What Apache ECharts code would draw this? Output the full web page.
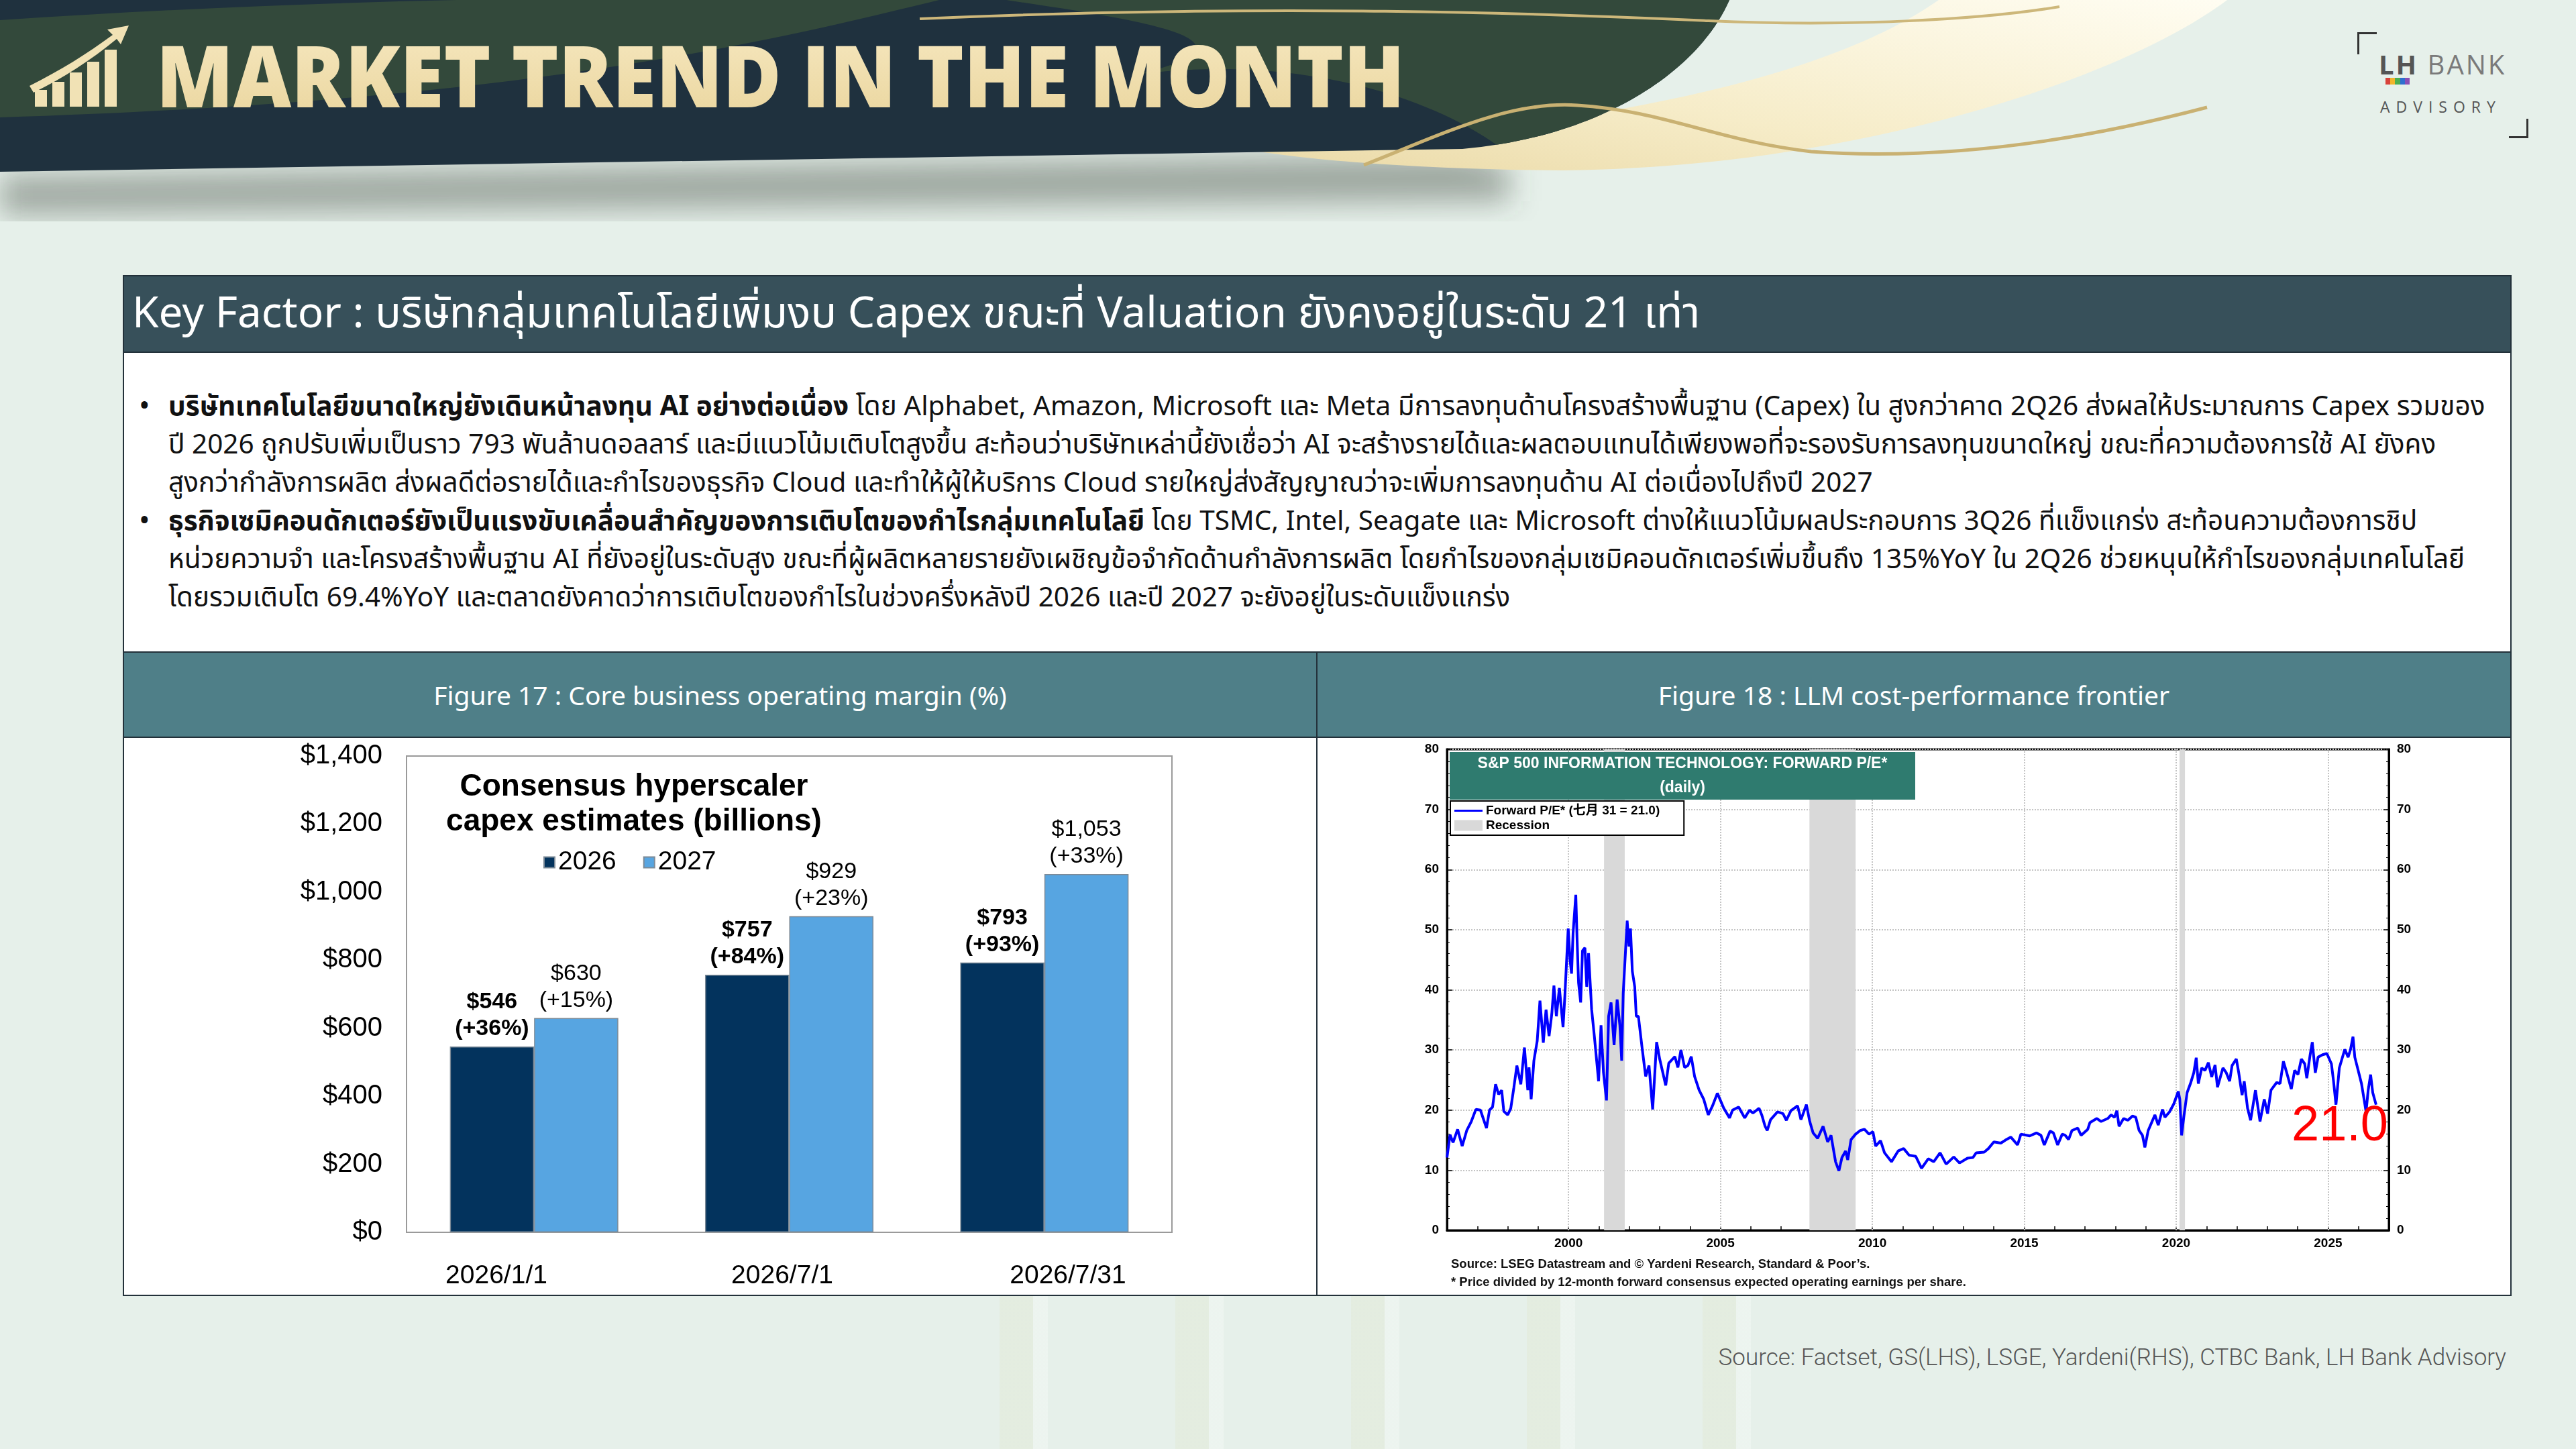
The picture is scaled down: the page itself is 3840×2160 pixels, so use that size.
<!DOCTYPE html>
<html>
<head>
<meta charset="utf-8">
<title>Market Trend in the Month</title>
<script src="https://cdn.jsdelivr.net/npm/echarts@6/dist/echarts.min.js"></script>
<style>
    html, body { margin: 0; padding: 0; }
    body { width: 3840px; height: 2160px; overflow: hidden; background: #e6f0ea; }
    #page { position: relative; width: 3840px; height: 2160px; overflow: hidden; background: #e6f0ea; }
    .stripes { position: absolute; left: 1300px; top: 1930px; width: 1500px; height: 230px;
        background: repeating-linear-gradient(90deg, rgba(0,0,0,0) 0, rgba(0,0,0,0) 190px,
            rgba(226,234,216,0.55) 190px, rgba(226,234,216,0.55) 240px, rgba(241,247,243,0.6) 240px, rgba(241,247,243,0.6) 262px); }
    #header { position: absolute; left: 0; top: 0; }
    .logo { position: absolute; left: 3500px; top: 40px; width: 280px; height: 180px; font-family: "Open Sans", "Liberation Sans", sans-serif; }
    .logo .name { position: absolute; left: 46px; top: 28px; font-size: 40px; letter-spacing: 3px; color: #7a7a7a; }
    .logo .name b { color: #555; font-weight: 700; }
    .logo .adv { position: absolute; left: 48px; top: 103px; font-size: 23px; letter-spacing: 9px; color: #555; }
    .logo .bars { position: absolute; left: 56px; top: 76px; width: 36px; height: 10px;
        background: linear-gradient(90deg, #d8423a 0 20%, #f1b52a 20% 40%, #4caf50 40% 60%, #2f6fd0 60% 80%, #8a4fb5 80% 100%); }
    .logo .c1 { position: absolute; left: 14px; top: 8px; width: 26px; height: 30px; border-left: 3px solid #333; border-top: 3px solid #333; }
    .logo .c2 { position: absolute; left: 240px; top: 137px; width: 26px; height: 26px; border-right: 3px solid #333; border-bottom: 3px solid #333; }
    .box { position: absolute; left: 183px; top: 410px; width: 3557px; height: 1518px; border: 2px solid #23313a; background: #fff; box-sizing: content-box; }
    .kf { position: absolute; left: 0; top: 0; width: 100%; height: 114px; background: #37505a; border-bottom: 2px solid #23313a;
        color: #fff; font-size: 64px; line-height: 114px; padding-left: 12px; box-sizing: border-box;
        font-family: "Noto Sans Thai", "Noto Sans Thai Looped", "Noto Sans", "Liberation Sans", sans-serif; white-space: nowrap; }
    .bullets { position: absolute; left: 0; top: 116px; width: 100%; height: 443px; padding: 50px 8px 0 0; box-sizing: border-box;
        font-family: "Noto Sans Thai", "Noto Sans Thai Looped", "Noto Sans", "Liberation Sans", sans-serif; font-size: 40.5px; line-height: 57px; color: #111; }
    .item { position: relative; padding-left: 66px; }
    .item .dot { position: absolute; left: 22px; top: 0; font-size: 44px; }
    .item p { margin: 0; }
    .fig { position: absolute; top: 559px; height: 125px; background: #4f7f88; border-top: 2px solid #23313a; border-bottom: 2px solid #23313a;
        color: #fff; font-family: "Noto Sans", "Liberation Sans", sans-serif; font-size: 39px; line-height: 125px; text-align: center; }
    .fig.l { left: 0; width: 1777px; border-right: 2px solid #23313a; }
    .fig.r { left: 1779px; width: 1778px; }
    .vline { position: absolute; left: 1777px; top: 686px; width: 2px; height: 832px; background: #23313a; }
    .chart { position: absolute; top: 1097px; height: 831px; }
    #capex { left: 185px; width: 1776px; }
    #pe { left: 1964px; width: 1776px; }
    .src { position: absolute; right: 104px; top: 2003px; font-family: Roboto, "Liberation Sans", sans-serif; font-weight: 300;
        font-size: 35px; color: #555; }
</style>
</head>
<body>
<div id="page">
    <div class="stripes"></div>
    <svg id="header" width="3840" height="330" viewBox="0 0 3840 330">
        <defs>
            <filter id="blur" x="-10%" y="-50%" width="120%" height="200%"><feGaussianBlur stdDeviation="22"/></filter>
            <linearGradient id="gold" x1="0" y1="0" x2="0" y2="1">
                <stop offset="0" stop-color="#f7e9c2"/><stop offset="1" stop-color="#e9d49b"/>
            </linearGradient>
            <linearGradient id="cream" x1="1" y1="0" x2="0" y2="1">
                <stop offset="0" stop-color="#fffdf2"/><stop offset="0.6" stop-color="#f6ecc8"/><stop offset="1" stop-color="#ead9a6"/>
            </linearGradient>
            <clipPath id="band"><path d="M0,0 L2578,0 C2530,110 2380,205 2180,222 L0,256 Z"/></clipPath>
        </defs>
        <!-- shadow under the band -->
        <path d="M0,262 L2180,230 L2250,250 L2250,300 L0,320 Z" fill="rgba(70,80,70,0.45)" filter="url(#blur)"/>
        <!-- cream swoosh -->
        <path d="M2890,0 L3320,0 C3160,120 2760,250 2330,254 C2120,252 1950,240 1840,220 C2350,200 2720,120 2890,0 Z" fill="url(#cream)"/>
        <!-- navy band -->
        <path d="M0,0 L2578,0 C2530,110 2380,205 2180,222 L0,256 Z" fill="#1f313e"/>
        <g clip-path="url(#band)">
            <path d="M0,30 C450,0 900,-10 1400,0 L1400,0 C1150,60 800,150 0,175 Z" fill="#33493b"/>
            <path d="M1500,0 L2600,0 L2600,260 L2250,230 C2150,150 1950,80 1700,110 C1900,60 1700,30 1500,0 Z" fill="#33493b"/>
        </g>
        <!-- gold lines -->
        <path d="M1371,28 C1900,5 2300,20 2547,31 C2750,40 2950,30 3070,10" stroke="#cdb77a" stroke-width="4" fill="none"/>
        <path d="M2033,246 C2150,200 2250,150 2351,157 C2480,165 2560,210 2700,226 C2900,240 3100,210 3290,160" stroke="#c9b172" stroke-width="5" fill="none"/>
        <!-- logo icon -->
        <g fill="#f1e2b5">
            <rect x="52" y="134" width="18" height="25"/>
            <rect x="78" y="122" width="18" height="37"/>
            <rect x="104" y="108" width="18" height="51"/>
            <rect x="130" y="92" width="18" height="67"/>
            <rect x="156" y="74" width="18" height="85"/>
            <path d="M44,128 C90,105 130,80 168,52 L160,44 L192,38 L180,66 L174,58 C135,90 95,116 50,138 Z"/>
        </g>
        <text x="233" y="160" font-family="Open Sans, Liberation Sans, sans-serif" font-weight="800" font-size="128"
              fill="url(#gold)" textLength="1861" lengthAdjust="spacingAndGlyphs">MARKET TREND IN THE MONTH</text>
    </svg>

    <div class="logo">
        <div class="c1"></div>
        <div class="name"><b>LH</b> BANK</div>
        <div class="bars"></div>
        <div class="adv">ADVISORY</div>
        <div class="c2"></div>
    </div>

    <div class="box">
        <div class="kf">Key Factor : บริษัทกลุ่มเทคโนโลยีเพิ่มงบ Capex ขณะที่ Valuation ยังคงอยู่ในระดับ 21 เท่า</div>
        <div class="bullets">
            <div class="item"><span class="dot">•</span><p><b>บริษัทเทคโนโลยีขนาดใหญ่ยังเดินหน้าลงทุน AI อย่างต่อเนื่อง</b> โดย Alphabet, Amazon, Microsoft และ Meta มีการลงทุนด้านโครงสร้างพื้นฐาน (Capex) ใน สูงกว่าคาด 2Q26 ส่งผลให้ประมาณการ Capex รวมของ<br>ปี 2026 ถูกปรับเพิ่มเป็นราว 793 พันล้านดอลลาร์ และมีแนวโน้มเติบโตสูงขึ้น สะท้อนว่าบริษัทเหล่านี้ยังเชื่อว่า AI จะสร้างรายได้และผลตอบแทนได้เพียงพอที่จะรองรับการลงทุนขนาดใหญ่ ขณะที่ความต้องการใช้ AI ยังคง<br>สูงกว่ากำลังการผลิต ส่งผลดีต่อรายได้และกำไรของธุรกิจ Cloud และทำให้ผู้ให้บริการ Cloud รายใหญ่ส่งสัญญาณว่าจะเพิ่มการลงทุนด้าน AI ต่อเนื่องไปถึงปี 2027</p></div>
            <div class="item"><span class="dot">•</span><p><b>ธุรกิจเซมิคอนดักเตอร์ยังเป็นแรงขับเคลื่อนสำคัญของการเติบโตของกำไรกลุ่มเทคโนโลยี</b> โดย TSMC, Intel, Seagate และ Microsoft ต่างให้แนวโน้มผลประกอบการ 3Q26 ที่แข็งแกร่ง สะท้อนความต้องการชิป<br>หน่วยความจำ และโครงสร้างพื้นฐาน AI ที่ยังอยู่ในระดับสูง ขณะที่ผู้ผลิตหลายรายยังเผชิญข้อจำกัดด้านกำลังการผลิต โดยกำไรของกลุ่มเซมิคอนดักเตอร์เพิ่มขึ้นถึง 135%YoY ใน 2Q26 ช่วยหนุนให้กำไรของกลุ่มเทคโนโลยี<br>โดยรวมเติบโต 69.4%YoY และตลาดยังคาดว่าการเติบโตของกำไรในช่วงครึ่งหลังปี 2026 และปี 2027 จะยังอยู่ในระดับแข็งแกร่ง</p></div>
        </div>
        <div class="fig l">Figure 17 : Core business operating margin (%)</div>
        <div class="fig r">Figure 18 : LLM cost-performance frontier</div>
        <div class="vline"></div>
    </div>

    <div id="capex" class="chart"></div>
    <div id="pe" class="chart"></div>

    <div class="src">Source: Factset, GS(LHS), LSGE, Yardeni(RHS), CTBC Bank, LH Bank Advisory</div>
</div>

<script>
// ---------------- data: left chart (capex, billions) ----------------
var capexDates = ['2026/1/1', '2026/7/1', '2026/7/31'];
var capex2026 = [546, 757, 793];
var capex2027 = [630, 929, 1053];
var growth2026 = [36, 84, 93];
var growth2027 = [15, 23, 33];

// ---------------- data: right chart (forward P/E) ----------------
var peYear = [
    1996.00, 1996.10, 1996.20, 1996.35, 1996.50, 1996.65, 1996.80, 1996.95, 1997.10, 1997.30,
    1997.40, 1997.50, 1997.60, 1997.70, 1997.80, 1997.87, 1998.00, 1998.10, 1998.20, 1998.30,
    1998.43, 1998.55, 1998.66, 1998.70, 1998.77, 1998.86, 1998.97, 1999.06, 1999.17, 1999.26,
    1999.36, 1999.45, 1999.52, 1999.60, 1999.70, 1999.82, 1999.88, 1999.99, 2000.05, 2000.10,
    2000.15, 2000.24, 2000.28, 2000.33, 2000.40, 2000.46, 2000.54, 2000.60, 2000.66, 2000.76,
    2000.85, 2000.99, 2001.07, 2001.15, 2001.25, 2001.32, 2001.40, 2001.50, 2001.60, 2001.69,
    2001.75, 2001.80, 2001.93, 2001.99, 2002.04, 2002.10, 2002.18, 2002.23, 2002.30, 2002.43,
    2002.54, 2002.65, 2002.77, 2002.90, 2003.00, 2003.20, 2003.30, 2003.50, 2003.60, 2003.70,
    2003.82, 2003.93, 2004.04, 2004.15, 2004.30, 2004.45, 2004.60, 2004.74, 2004.90, 2005.11,
    2005.30, 2005.40, 2005.60, 2005.80, 2005.96, 2006.07, 2006.27, 2006.36, 2006.47, 2006.54,
    2006.65, 2006.88, 2007.06, 2007.17, 2007.32, 2007.54, 2007.65, 2007.83, 2007.94, 2008.05,
    2008.20, 2008.38, 2008.53, 2008.64, 2008.79, 2008.90, 2009.00, 2009.12, 2009.19, 2009.30,
    2009.45, 2009.60, 2009.74, 2009.89, 2010.02, 2010.11, 2010.27, 2010.40, 2010.63, 2010.85,
    2011.03, 2011.21, 2011.43, 2011.62, 2011.84, 2012.02, 2012.23, 2012.43, 2012.68, 2012.87,
    2013.13, 2013.31, 2013.42, 2013.68, 2013.82, 2014.00, 2014.23, 2014.38, 2014.56, 2014.78,
    2014.89, 2015.18, 2015.40, 2015.55, 2015.66, 2015.85, 2015.96, 2016.10, 2016.25, 2016.35,
    2016.46, 2016.57, 2016.76, 2016.87, 2017.09, 2017.16, 2017.39, 2017.53, 2017.75, 2017.86,
    2017.97, 2018.05, 2018.12, 2018.27, 2018.41, 2018.56, 2018.67, 2018.78, 2018.89, 2018.97,
    2019.08, 2019.30, 2019.41, 2019.55, 2019.63, 2019.78, 2019.92, 2020.07, 2020.12, 2020.18,
    2020.25, 2020.36, 2020.47, 2020.58, 2020.66, 2020.73, 2020.84, 2020.95, 2021.06, 2021.17,
    2021.28, 2021.36, 2021.54, 2021.65, 2021.76, 2021.84, 2021.98, 2022.06, 2022.17, 2022.24,
    2022.35, 2022.45, 2022.61, 2022.76, 2022.90, 2023.01, 2023.12, 2023.31, 2023.42, 2023.53,
    2023.64, 2023.79, 2023.90, 2024.01, 2024.12, 2024.23, 2024.30, 2024.41, 2024.48, 2024.58,
    2024.67, 2024.82, 2024.96, 2025.11, 2025.18, 2025.26, 2025.37, 2025.55, 2025.66, 2025.74,
    2025.82, 2025.88, 2025.99, 2026.10, 2026.21, 2026.25, 2026.32, 2026.40, 2026.47, 2026.58
];
var peValue = [
    12.1, 15.9, 14.6, 16.8, 14.0, 16.6, 18.1, 20.1, 20.0, 17.0,
    20.0, 20.5, 24.3, 22.6, 23.3, 19.8, 19.2, 20.3, 23.7, 27.4,
    24.3, 30.4, 23.3, 27.1, 21.8, 28.2, 31.5, 38.2, 31.2, 36.7,
    32.3, 36.0, 40.7, 35.6, 40.3, 33.8, 39.0, 50.2, 45.0, 42.7,
    49.4, 55.8, 48.7, 41.2, 37.9, 46.5, 47.0, 40.5, 46.1, 36.8,
    32.3, 24.8, 34.1, 26.3, 21.6, 35.6, 37.9, 30.8, 38.4, 34.1,
    28.2, 39.4, 51.5, 47.2, 50.2, 43.1, 40.5, 35.6, 35.6, 30.0,
    25.6, 27.4, 20.1, 31.3, 28.5, 24.1, 27.8, 28.9, 27.1, 30.0,
    27.1, 27.4, 28.9, 25.6, 23.3, 21.8, 19.2, 20.7, 22.8, 20.3,
    18.7, 20.0, 20.5, 18.7, 20.0, 19.5, 20.3, 19.2, 17.3, 16.6,
    18.4, 19.7, 19.4, 18.3, 19.9, 20.7, 18.4, 20.9, 18.1, 16.2,
    15.3, 17.3, 14.7, 15.8, 11.4, 9.9, 12.1, 13.2, 11.7, 15.1,
    16.0, 16.6, 16.8, 16.0, 16.4, 14.0, 14.9, 12.9, 11.4, 13.2,
    13.6, 12.5, 12.3, 10.3, 11.9, 11.4, 12.9, 11.0, 12.2, 11.2,
    12.0, 12.1, 12.9, 13.0, 13.6, 14.7, 14.5, 15.0, 15.5, 14.2,
    16.0, 15.7, 16.2, 15.8, 14.2, 16.5, 16.2, 14.2, 16.0, 15.8,
    15.1, 16.6, 17.0, 15.8, 16.8, 17.9, 18.6, 18.1, 18.6, 19.2,
    18.8, 19.9, 17.3, 18.6, 18.3, 19.0, 18.8, 16.6, 15.8, 13.8,
    16.6, 19.2, 17.5, 20.1, 18.8, 19.7, 21.0, 23.1, 21.8, 15.8,
    18.8, 22.9, 24.4, 26.2, 28.7, 24.4, 27.0, 26.6, 27.9, 25.5,
    27.5, 23.8, 27.0, 26.2, 24.8, 27.4, 28.5, 26.2, 22.5, 24.8,
    20.3, 18.3, 23.3, 18.1, 21.8, 19.4, 23.3, 24.6, 24.4, 28.1,
    26.2, 23.5, 26.6, 25.9, 28.5, 27.7, 25.3, 29.2, 31.3, 26.2,
    28.8, 29.2, 29.4, 27.7, 24.8, 20.9, 27.0, 30.1, 28.8, 30.1,
    32.2, 28.8, 26.6, 24.4, 21.0, 19.7, 23.3, 25.9, 22.9, 20.9
];
var recessionStart = [2001.17, 2007.93, 2020.11];
var recessionEnd = [2001.85, 2009.45, 2020.29];
var peLabelYears = [2000, 2005, 2010, 2015, 2020, 2025];
var peLineName = 'Forward P/E* (七月 31 = 21.0)';

var FONT = '"Liberation Sans", Arial, "Noto Sans CJK SC", sans-serif';

// ---------------- left: consensus hyperscaler capex ----------------
function money(v) {
    return '$' + v.toLocaleString('en-US');
}

var capexChart = echarts.init(document.getElementById('capex'));
capexChart.setOption({
    animation: false,
    textStyle: { fontFamily: FONT },
    grid: [{
        left: 421, right: 214, top: 30, bottom: 91,
        show: true, borderColor: '#9a9a9a', borderWidth: 2, backgroundColor: '#fff',
        outerBoundsMode: 'none'
    }, {
        // the date labels sit on their own wider spacing under the plot box
        left: 342, right: 156, top: 30, bottom: 91, outerBoundsMode: 'none'
    }],
    legend: {
        left: 620, top: 164, icon: 'rect', itemWidth: 16, itemHeight: 16, itemGap: 40,
        selectedMode: false,
        textStyle: { fontSize: 39, color: '#000', fontFamily: FONT },
        data: ['2026', '2027']
    },
    graphic: [{
        type: 'text', x: 760, y: 50,
        style: {
            text: 'Consensus hyperscaler\ncapex estimates (billions)',
            font: 'bold 46px ' + FONT, fill: '#000', lineHeight: 52,
            align: 'center', textAlign: 'center'
        }
    }],
    xAxis: [{
        type: 'category', data: capexDates, gridIndex: 0,
        axisLine: { show: false }, axisTick: { show: false }, axisLabel: { show: false }
    }, {
        type: 'category', data: capexDates, gridIndex: 1,
        axisLine: { show: false }, axisTick: { show: false },
        axisLabel: { margin: 46, fontSize: 39, color: '#000', fontFamily: FONT }
    }],
    yAxis: [{
        type: 'value', min: 0, max: 1400, interval: 200, gridIndex: 0,
        axisLine: { show: false }, axisTick: { show: false }, splitLine: { show: false },
        axisLabel: { margin: 36, fontSize: 40, color: '#000', fontFamily: FONT, formatter: money }
    }, {
        type: 'value', min: 0, max: 1400, gridIndex: 1, show: false
    }],
    series: [{
        name: '2026', type: 'bar', data: capex2026,
        barGap: '0%', barCategoryGap: '34%',
        itemStyle: { color: '#03335d', borderColor: '#7d8b98', borderWidth: 1.5 },
        label: {
            show: true, position: 'top', distance: 6, color: '#000',
            fontSize: 34, fontWeight: 'bold', lineHeight: 40, fontFamily: FONT,
            formatter: function (p) { return money(p.value) + '\n(+' + growth2026[p.dataIndex] + '%)'; }
        }
    }, {
        name: '2027', type: 'bar', data: capex2027,
        itemStyle: { color: '#57a5e1', borderColor: '#7d8b98', borderWidth: 1.5 },
        label: {
            show: true, position: 'top', distance: 6, color: '#000',
            fontSize: 34, lineHeight: 40, fontFamily: FONT,
            formatter: function (p) { return money(p.value) + '\n(+' + growth2027[p.dataIndex] + '%)'; }
        }
    }]
});

// ---------------- right: S&P 500 IT forward P/E ----------------
var peData = [];
for (var i = 0; i < peYear.length; i++) {
    peData.push([peYear[i], peValue[i]]);
}
var recessionAreas = [];
for (var r = 0; r < recessionStart.length; r++) {
    recessionAreas.push([{ xAxis: recessionStart[r] }, { xAxis: recessionEnd[r] }]);
}
var yearTicks = [];
for (var y = 1996; y <= 2027; y++) {
    yearTicks.push(y);
}
var vGrid = peLabelYears.map(function (v) { return { xAxis: v }; });

var yAxisBase = {
    type: 'value', min: 0, max: 80, interval: 10,
    axisLine: { show: true, lineStyle: { color: '#000', width: 3 } },
    axisTick: { show: true, inside: true, length: 8, lineStyle: { color: '#000', width: 1.5 } },
    minorTick: { show: true, splitNumber: 5, length: 4, lineStyle: { color: '#000', width: 1 } },
    axisLabel: { fontSize: 19, fontWeight: 'bold', color: '#000', margin: 12, fontFamily: FONT }
};

var peChart = echarts.init(document.getElementById('pe'));
peChart.setOption({
    animation: false,
    textStyle: { fontFamily: FONT },
    grid: {
        left: 193, right: 179, top: 20, bottom: 94,
        show: true, borderColor: '#000', borderWidth: 3, backgroundColor: '#fff',
        outerBoundsMode: 'none'
    },
    legend: {
        left: 198, top: 97, orient: 'vertical', selectedMode: false,
        backgroundColor: '#fff', borderColor: '#000', borderWidth: 2,
        padding: [5, 36, 5, 6], itemGap: 3, itemWidth: 42, itemHeight: 16,
        textStyle: { fontSize: 19, fontWeight: 'bold', color: '#000', fontFamily: FONT },
        data: [{ name: peLineName, icon: 'path://M0,0H40V3H0Z' }, { name: 'Recession', icon: 'rect' }]
    },
    xAxis: {
        type: 'value', min: 1996, max: 2027,
        axisLine: { show: true, lineStyle: { color: '#000', width: 3 } },
        axisTick: { show: true, inside: true, length: 6, customValues: yearTicks, lineStyle: { color: '#000', width: 1.5 } },
        axisLabel: {
            customValues: peLabelYears, fontSize: 19, fontWeight: 'bold', color: '#000', margin: 10, fontFamily: FONT,
            formatter: function (v) { return String(v); }
        },
        splitLine: { show: false }
    },
    yAxis: [
        echarts.util.merge({ position: 'left', splitLine: { show: true, lineStyle: { type: 'dotted', color: '#c4c4c4', width: 2 } } }, yAxisBase),
        echarts.util.merge({ position: 'right', splitLine: { show: false } }, yAxisBase)
    ],
    graphic: [
        { type: 'rect', shape: { x: 197, y: 24, width: 694, height: 71 }, style: { fill: '#2f7b6f' }, z: 50 },
        { type: 'text', x: 544, y: 42, z: 51, style: { text: 'S&P 500 INFORMATION TECHNOLOGY: FORWARD P/E*', font: 'bold 23px ' + FONT, fill: '#fff', align: 'center', textAlign: 'center', verticalAlign: 'middle', textVerticalAlign: 'middle' } },
        { type: 'text', x: 544, y: 78, z: 51, style: { text: '(daily)', font: 'bold 23px ' + FONT, fill: '#fff', align: 'center', textAlign: 'center', verticalAlign: 'middle', textVerticalAlign: 'middle' } },
        { type: 'text', x: 1452, y: 546, z: 60, style: { text: '21.0', font: '74px ' + FONT, fill: '#ff0000' } },
        { type: 'text', x: 199, y: 779, style: { text: 'Source: LSEG Datastream and \u00a9 Yardeni Research, Standard & Poor\u2019s.', font: 'bold 18.5px ' + FONT, fill: '#111' } },
        { type: 'text', x: 199, y: 806, style: { text: '* Price divided by 12-month forward consensus expected operating earnings per share.', font: 'bold 18.5px ' + FONT, fill: '#111' } }
    ],
    series: [{
        name: peLineName, type: 'line', data: peData, z: 3,
        symbol: 'none', showSymbol: false,
        lineStyle: { color: '#0000ff', width: 4 }, itemStyle: { color: '#0000ff' },
        markArea: { silent: true, itemStyle: { color: '#d9d9d9' }, data: recessionAreas },
        markLine: {
            silent: true, z: 1, symbol: ['none', 'none'], label: { show: false },
            lineStyle: { type: 'dotted', color: '#c4c4c4', width: 2 }, data: vGrid
        }
    }, {
        name: 'Recession', type: 'bar', data: [],
        itemStyle: { color: '#d9d9d9' }
    }]
});
</script>
</body>
</html>
